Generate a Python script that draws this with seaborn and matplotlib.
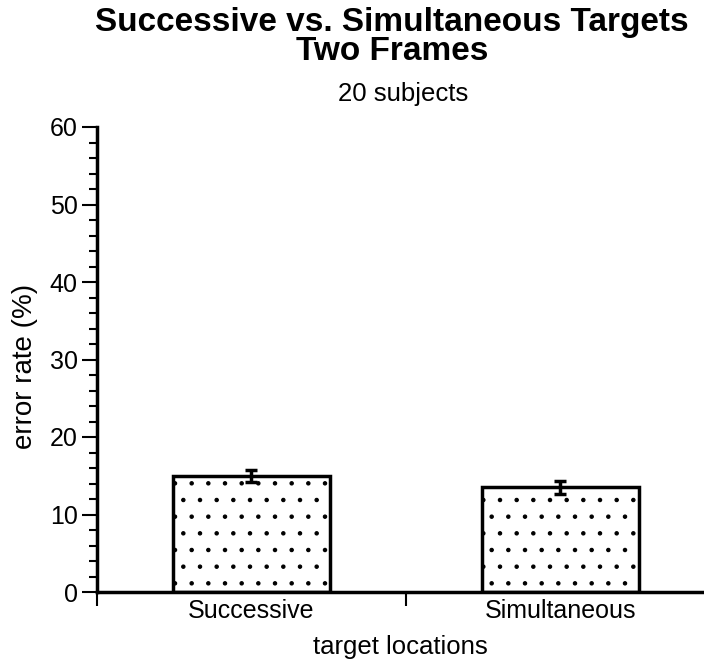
import matplotlib
matplotlib.use("Agg")
import matplotlib.pyplot as plt
import seaborn as sns
import pandas as pd
from matplotlib.ticker import MultipleLocator, FixedLocator

categories = ["Successive", "Simultaneous"]
error_rate = [15.0, 13.5]
error_sem = [0.8, 0.8]
y_ticks = [0, 10, 20, 30, 40, 50, 60]

sns.set_theme(style="white")
plt.rcParams['font.family'] = ['Liberation Sans', 'DejaVu Sans']
plt.rcParams['hatch.linewidth'] = 0.8
plt.rcParams['hatch.color'] = '#666666'
plt.rcParams['text.color'] = 'black'
plt.rcParams['axes.labelcolor'] = 'black'
plt.rcParams['xtick.color'] = 'black'
plt.rcParams['ytick.color'] = 'black'

df = pd.DataFrame({"target": categories, "rate": error_rate})

fig = plt.figure(figsize=(7.04, 6.65), dpi=100)
ax = fig.add_axes([97/704, 1 - 592/665, 1 - 97/704, (592 - 127)/665])

sns.barplot(data=df, x="target", y="rate", ax=ax, color="white",
            edgecolor="black", linewidth=2.5, width=0.506, errorbar=None,
            order=categories)
for p in ax.patches:
    p.set_hatch('.')
ax.errorbar(range(len(categories)), error_rate, yerr=error_sem, fmt='none',
            ecolor='black', elinewidth=2.5, capsize=4.5, capthick=2.5, zorder=5)

ax.set_ylim(0, 60)
ax.set_xlim(-0.5, 1.465)
ax.set_yticks(y_ticks)
ax.yaxis.set_minor_locator(MultipleLocator(2))
ax.xaxis.set_minor_locator(FixedLocator([-0.5, 0.5]))
ax.tick_params(axis='y', which='major', length=11, width=1.5, direction='out',
               labelsize=18, pad=3, left=True)
ax.tick_params(axis='y', which='minor', length=6, width=1.5, direction='out', left=True)
ax.tick_params(axis='x', which='major', length=0, labelsize=18, pad=5)
ax.tick_params(axis='x', which='minor', length=10, width=1.5, direction='out', bottom=True)

for s in ["top", "right"]:
    ax.spines[s].set_visible(False)
for s in ["left", "bottom"]:
    ax.spines[s].set_linewidth(2.5)
    ax.spines[s].set_color("black")

ax.set_ylabel("error rate (%)", fontsize=20)
ax.yaxis.set_label_coords(-0.097, 0.485)
ax.set_xlabel("target locations", fontsize=18.5)
ax.xaxis.set_label_coords(0.5, -0.093)

fig.text(392/704, 1 - 7/665, "Successive vs. Simultaneous Targets\nTwo Frames",
         ha='center', va='top', fontsize=24, fontweight='bold', linespacing=0.92)
fig.text(403/704, 1 - 82/665, "20 subjects", ha='center', va='top', fontsize=18.5)

fig.savefig("out.png", dpi=100)
